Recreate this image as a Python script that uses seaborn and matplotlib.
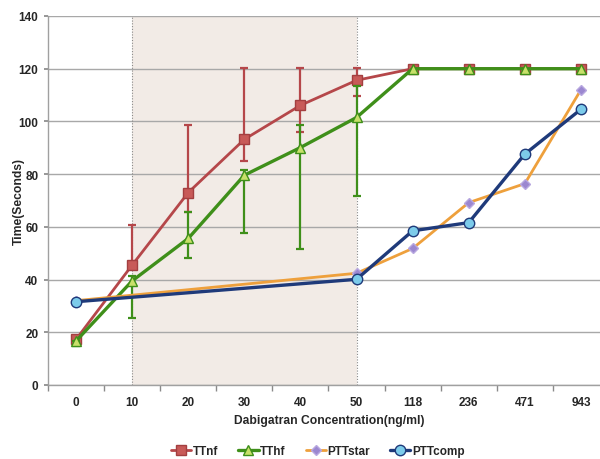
import matplotlib
matplotlib.use("Agg")
import matplotlib.pyplot as plt
import seaborn as sns
import numpy as np
import pandas as pd

# categories on the x axis (ng/ml)
concentrations = ["0", "10", "20", "30", "40", "50", "118", "236", "471", "943"]

# thrombin time, normal fibrinogen
ttnf = [17.3, 45.5, 73.0, 93.2, 106.1, 115.6, 120, 120, 120, 120]
ttnf_hi = [17.3, 60.6, 98.8, 120.2, 120.2, 120.2, np.nan, np.nan, np.nan, np.nan]
ttnf_lo = [17.3, 45.5, 65.5, 85.0, 96.0, 109.6, np.nan, np.nan, np.nan, np.nan]

# thrombin time, high fibrinogen
tthf = [16.7, 39.5, 55.6, 79.6, 90.1, 101.5, 120, 120, 120, 120]
tthf_hi = [16.7, 41.4, 65.5, 81.6, 98.6, 113.5, np.nan, np.nan, np.nan, np.nan]
tthf_lo = [14.8, 25.3, 48.3, 57.5, 51.5, 71.7, np.nan, np.nan, np.nan, np.nan]

# aPTT reagents (no values for 10-40)
pttstar = [32.0, np.nan, np.nan, np.nan, np.nan, 42.4, 51.8, 69.2, 76.4, 112.0]
pttcomp = [31.6, np.nan, np.nan, np.nan, np.nan, 40.1, 58.5, 61.6, 87.6, 104.6]

series_names = ["TTnf", "TThf", "PTTstar", "PTTcomp"]
shade_from, shade_to = "10", "50"

sns.set_theme(style="white")
plt.rcParams["font.family"] = ["Liberation Sans", "DejaVu Sans"]
plt.rcParams["font.weight"] = "bold"

fig = plt.figure(figsize=(6, 4.6), dpi=100)
ax = fig.add_axes([48 / 600, 1 - 386 / 460, 552 / 600, 369 / 460])

pos = np.arange(len(concentrations))
df = pd.DataFrame({"pos": pos, "TTnf": ttnf, "TThf": tthf,
                   "PTTstar": pttstar, "PTTcomp": pttcomp})

styles = {
    "TTnf": dict(color="#b5474a", marker="s", markersize=7.5, markerfacecolor="#c85a58",
                 markeredgecolor="#a33f40", linewidth=2.0),
    "TThf": dict(color="#3f8f1a", marker="^", markersize=7, markerfacecolor="#c8e06a",
                 markeredgecolor="#3f8f1a", linewidth=2.4),
    "PTTstar": dict(color="#eea03c", marker="D", markersize=5, markerfacecolor="#9b87d0",
                    markeredgecolor="#b8a8e0", linewidth=2.0),
    "PTTcomp": dict(color="#1f3a7a", marker="o", markersize=7.5, markerfacecolor="#7ccbea",
                    markeredgecolor="#1f3a7a", linewidth=2.4),
}

# shaded concentration window with dotted borders
x0, x1 = concentrations.index(shade_from), concentrations.index(shade_to)
ax.axvspan(x0, x1, color="#f2ebe6", zorder=0, lw=0)
for xv in (x0, x1):
    ax.axvline(xv, color="#8a8a8a", ls=(0, (1, 1.5)), lw=0.8, zorder=1)

ax.yaxis.grid(True, color="#a8a8a8", lw=1.0, zorder=1)
ax.set_axisbelow(True)

err = {"TTnf": (ttnf, ttnf_lo, ttnf_hi), "TThf": (tthf, tthf_lo, tthf_hi)}
for z, name in enumerate(series_names):
    st = styles[name]
    sub = df[["pos", name]].dropna()
    sns.lineplot(data=sub, x="pos", y=name, ax=ax, label=name, zorder=3 + z,
                 markeredgewidth=1.0, **st)
    if name in err:
        mid, lo, hi = (np.array(a, dtype=float) for a in err[name])
        m = ~np.isnan(hi)
        ax.errorbar(pos[m], mid[m], yerr=[mid[m] - lo[m], hi[m] - mid[m]], fmt="none",
                    ecolor=st["color"], elinewidth=1.6, capsize=3, capthick=1.6, zorder=2.5 + z)

ax.set_xticks(pos)
ax.set_xticklabels(concentrations)
ax.set_xticks(np.arange(-0.5, 9.4, 1), minor=True)
ax.set_yticks(range(0, 141, 20))
# limits after ticks, set_ticks would widen them
ax.set_xlim(-0.5, 9.34)
ax.set_ylim(0, 140)
ax.tick_params(axis="x", which="major", length=0, pad=8, labelsize=8.5)
ax.tick_params(axis="x", which="minor", length=4, color="#8a8a8a", direction="out", bottom=True)
ax.tick_params(axis="y", length=3, color="#8a8a8a", direction="out", left=True, labelsize=8.5, pad=4)

for sp in ("top", "right"):
    ax.spines[sp].set_visible(False)
for sp in ("left", "bottom"):
    ax.spines[sp].set_color("#a0a0a0")
    ax.spines[sp].set_linewidth(1.0)

ax.set_xlabel("Dabigatran Concentration(ng/ml)", fontsize=8.7, fontweight="bold")
ax.set_ylabel("Time(Seconds)", fontsize=8.7, fontweight="bold")
ax.xaxis.set_label_coords((329 - 48) / 552, -(415 - 386) / 369)
ax.yaxis.set_label_coords((25 - 48) / 552, 0.5)

ax.legend(loc="center", bbox_to_anchor=(318 / 600, 1 - 452 / 460), bbox_transform=fig.transFigure,
          ncol=4, frameon=False, fontsize=8.5, handlelength=1.7, handletextpad=0.15,
          columnspacing=1.7, borderaxespad=0)

fig.savefig("out.png", dpi=100)
